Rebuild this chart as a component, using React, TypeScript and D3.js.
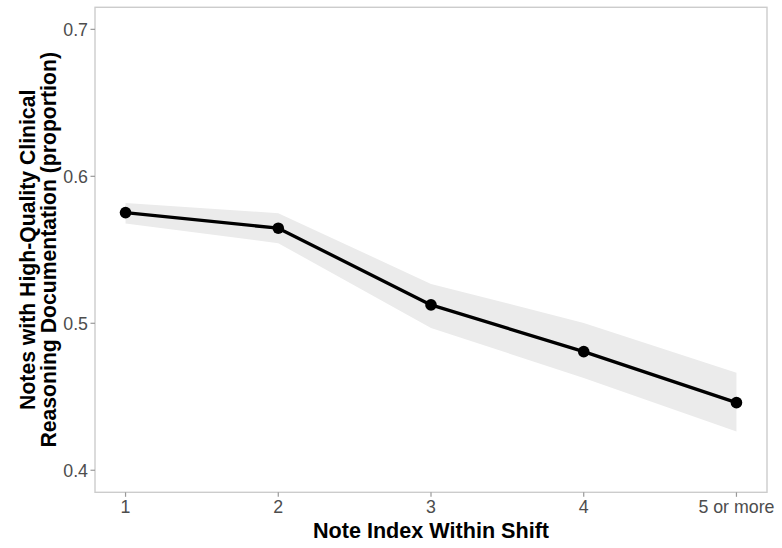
import React from "react";
import * as d3 from "d3";

// Proportion of notes with high-quality clinical reasoning, by note position in shift
const categories = ["1", "2", "3", "4", "5 or more"];
const estimate = [0.5753, 0.5647, 0.5125, 0.4807, 0.446];
const lowerCI = [0.5679, 0.5545, 0.4968, 0.4628, 0.4263];
const upperCI = [0.5819, 0.5749, 0.5268, 0.5002, 0.4664];
const yTicks = [0.4, 0.5, 0.6, 0.7];

const W = 782;
const H = 548;
const panel = { left: 95, right: 767, top: 7.3, bottom: 492.3 };

export default function App() {
  const x = d3
    .scaleLinear()
    .domain([0.8, categories.length + 0.2])
    .range([panel.left, panel.right]);
  const y = d3
    .scaleLinear()
    .domain([0.385, 0.715])
    .range([panel.bottom, panel.top]);

  const rows = categories.map((c, i) => ({
    i: i + 1,
    c,
    est: estimate[i],
    lo: lowerCI[i],
    hi: upperCI[i],
  }));

  const ribbon = d3
    .area<(typeof rows)[number]>()
    .x((d) => x(d.i))
    .y0((d) => y(d.lo))
    .y1((d) => y(d.hi))(rows);
  const line = d3
    .line<(typeof rows)[number]>()
    .x((d) => x(d.i))
    .y((d) => y(d.est))(rows);

  const font = "'Liberation Sans', Arial, sans-serif";
  const midY = (panel.top + panel.bottom) / 2;
  const midX = (panel.left + panel.right) / 2;

  return (
    <svg
      width={W}
      height={H}
      style={{ position: "absolute", left: 0, top: 0, background: "#fff" }}
      fontFamily={font}
    >
      <path d={ribbon ?? ""} fill="#ebebeb" />
      <path
        d={line ?? ""}
        fill="none"
        stroke="#000"
        strokeWidth={3.3}
        strokeLinejoin="round"
      />
      {rows.map((d) => (
        <circle key={d.c} cx={x(d.i)} cy={y(d.est)} r={5.8} fill="#000" />
      ))}
      <rect
        x={panel.left}
        y={panel.top}
        width={panel.right - panel.left}
        height={panel.bottom - panel.top}
        fill="none"
        stroke="#cccccc"
        strokeWidth={1.4}
      />
      {yTicks.map((t) => (
        <g key={t}>
          <line
            x1={panel.left - 4.5}
            x2={panel.left}
            y1={y(t)}
            y2={y(t)}
            stroke="#999"
            strokeWidth={1.2}
          />
          <text
            x={panel.left - 7}
            y={y(t)}
            dy="0.36em"
            textAnchor="end"
            fontSize={17.8}
            fill="#4d4d4d"
          >
            {d3.format(".1f")(t)}
          </text>
        </g>
      ))}
      {rows.map((d) => (
        <g key={d.c}>
          <line
            x1={x(d.i)}
            x2={x(d.i)}
            y1={panel.bottom}
            y2={panel.bottom + 4.5}
            stroke="#999"
            strokeWidth={1.2}
          />
          <text
            x={x(d.i)}
            y={panel.bottom + 21}
            textAnchor="middle"
            fontSize={17.8}
            fill="#4d4d4d"
          >
            {d.c}
          </text>
        </g>
      ))}
      <text
        x={midX}
        y={538}
        textAnchor="middle"
        fontSize={21.6}
        fontWeight="bold"
        fill="#000"
      >
        Note Index Within Shift
      </text>
      <g transform={`translate(0, ${midY}) rotate(-90)`}>
        <text
          x={0}
          y={35}
          textAnchor="middle"
          fontSize={21.2}
          fontWeight="bold"
          fill="#000"
        >
          Notes with High-Quality Clinical
        </text>
        <text
          x={0}
          y={56}
          textAnchor="middle"
          fontSize={21.2}
          fontWeight="bold"
          fill="#000"
        >
          Reasoning Documentation (proportion)
        </text>
      </g>
    </svg>
  );
}
